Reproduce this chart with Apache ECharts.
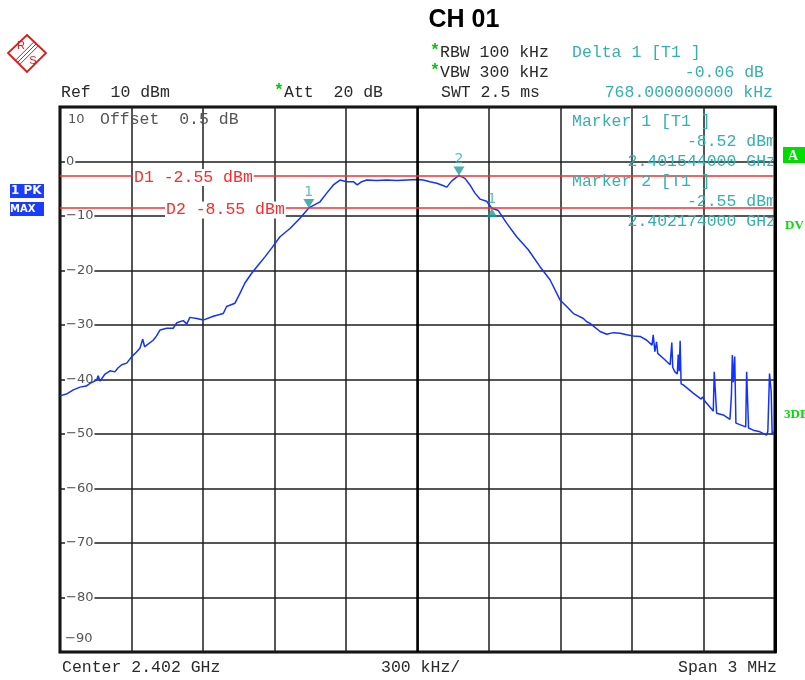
<!DOCTYPE html>
<html><head><meta charset="utf-8">
<script src="https://cdn.jsdelivr.net/npm/echarts@6/dist/echarts.min.js"></script>
<style>html,body{margin:0;padding:0;background:#fff}#c{width:805px;height:680px}</style>
</head><body><div id="c"></div>
<script>
// ---------- data ----------
const centerMHz = 2402.0;
const spanKHz = 3000;
const divKHz = 300;
const refLevel = 10;
const bottomLevel = -90;
const levelStep = 10;

const freqMHz = [
 2400.500,2400.530,2400.556,2400.584,2400.610,2400.626,2400.654,2400.660,2400.668,2400.689,
 2400.710,2400.730,2400.743,2400.759,2400.780,2400.801,2400.820,2400.836,2400.847,2400.855,
 2400.864,2400.891,2400.905,2400.920,2400.948,2400.975,2400.990,2401.017,2401.032,2401.045,
 2401.074,2401.101,2401.143,2401.185,2401.199,2401.234,2401.255,2401.276,2401.304,2401.332,
 2401.360,2401.388,2401.423,2401.465,2401.507,2401.544,2401.591,2401.619,2401.647,2401.675,
 2401.703,2401.731,2401.747,2401.766,2401.787,2401.829,2401.871,2401.913,2401.955,2401.997,
 2402.024,2402.052,2402.081,2402.101,2402.123,2402.143,2402.160,2402.174,2402.199,2402.220,
 2402.241,2402.262,2402.290,2402.312,2402.339,2402.374,2402.416,2402.465,2402.514,2402.556,
 2402.598,2402.626,2402.654,2402.668,2402.696,2402.710,2402.724,2402.766,2402.794,2402.822,
 2402.850,2402.878,2402.906,2402.934,2402.962,2402.984,2402.989,2402.996,2403.003,2403.008,
 2403.031,2403.060,2403.067,2403.071,2403.080,2403.090,2403.094,2403.098,2403.102,2403.106,
 2403.115,2403.157,2403.190,2403.196,2403.206,2403.241,2403.245,2403.251,2403.255,2403.283,
 2403.311,2403.317,2403.321,2403.325,2403.331,2403.336,2403.339,2403.377,2403.381,2403.385,
 2403.389,2403.409,2403.437,2403.465,2403.470,2403.477,2403.484,2403.488,2403.492,2403.500
];
const levelDbm = [
 -43.0,-42.6,-41.9,-41.4,-41.2,-40.7,-40.1,-39.3,-40.3,-39.0,
 -38.4,-38.6,-37.9,-37.3,-37.0,-35.8,-35.0,-34.2,-32.6,-34.0,
 -33.7,-32.8,-32.0,-30.9,-30.6,-30.6,-29.6,-29.2,-29.8,-28.6,
 -28.8,-29.1,-28.4,-27.9,-26.6,-26.0,-24.2,-22.3,-20.5,-19.0,
 -17.5,-15.9,-13.8,-12.3,-10.4,-8.52,-7.4,-5.8,-4.3,-3.4,
 -3.7,-3.7,-4.3,-3.7,-3.4,-3.5,-3.4,-3.5,-3.4,-3.3,
 -3.4,-3.7,-4.0,-4.3,-4.7,-3.6,-3.0,-2.55,-3.1,-4.3,
 -5.8,-6.9,-7.3,-8.58,-9.0,-11.3,-13.8,-16.2,-19.3,-21.7,
 -25.4,-26.6,-27.9,-28.2,-28.8,-29.4,-29.7,-31.2,-31.7,-31.4,
 -31.5,-31.8,-32.0,-32.1,-32.8,-33.7,-31.8,-34.9,-33.1,-35.2,
 -36.1,-37.3,-33.2,-37.8,-38.6,-39.0,-35.4,-38.5,-32.9,-40.8,
 -41.0,-42.5,-43.6,-43.2,-44.0,-45.8,-38.6,-38.8,-46.2,-46.5,
 -47.3,-43.0,-35.5,-40.5,-35.8,-48.0,-48.3,-48.7,-38.6,-38.9,
 -48.9,-49.3,-49.6,-50.2,-49.5,-38.9,-42.2,-50.0,-50.3,-49.4
];

const thresholdNames = ['D1','D2'];
const thresholdValues = [-2.55,-8.55];

const markerLabels = ['1','2','1'];
const markerFreqMHz = [2401.544,2402.174,2402.312];
const markerLevels = [-8.52,-2.55,-8.58];
const markerIsDelta = [false,false,true];

// ---------- build ----------
const toKHz = f => Math.round((f - centerMHz) * 1000 * 1000) / 1000;
const traceData = freqMHz.map((f,i) => [toKHz(f), levelDbm[i]]);
const mkDown = [], mkUp = [];
markerFreqMHz.forEach((f,i) => {
  const d = {value:[toKHz(f), markerLevels[i]], name: markerLabels[i]};
  (markerIsDelta[i] ? mkUp : mkDown).push(d);
});

const mono = '"Liberation Mono","DejaVu Sans Mono",monospace';
const sans = '"DejaVu Sans","Liberation Sans",sans-serif';
const teal = '#35b0b0';
const dark = '#2a2a2a';
const fs = 16.5;

function T(x,y,text,opt){
  opt = opt||{};
  return {type:'text', x:x, y:y, z: opt.z||100, silent:true,
    style:Object.assign({text:text, fill: opt.fill||dark, font: (opt.weight||'normal')+' '+(opt.size||fs)+'px '+(opt.family||mono),
      align: opt.align||'left', verticalAlign:'middle'}, opt.extra||{})};
}

const chart = echarts.init(document.getElementById('c'), null, {renderer:'canvas'});
const option = {
  animation:false,
  backgroundColor:'#fff',
  grid:{left:60, top:107, width:715, height:545, show:true, borderColor:'#000', borderWidth:3, backgroundColor:'transparent'},
  xAxis:{type:'value', min:-spanKHz/2, max:spanKHz/2, interval:divKHz,
    axisLabel:{show:false}, axisTick:{show:false}, axisLine:{show:false},
    splitLine:{show:true, lineStyle:{color:'#1e1e1e', width:1.5}}},
  yAxis:{type:'value', min:bottomLevel, max:refLevel, interval:levelStep,
    axisTick:{show:false}, axisLine:{show:false},
    splitLine:{show:true, lineStyle:{color:'#1e1e1e', width:1.5}},
    axisLabel:{inside:true, margin:5, showMinLabel:false, showMaxLabel:false,
      color:'#555', fontSize:13, fontFamily:sans, backgroundColor:'#fff', padding:[0,1,0,1],
      formatter: v => (v===refLevel||v===bottomLevel) ? '' : String(v).replace('-','\u2212')}},
  series:[
    {type:'line', data:[], z:1, silent:true,
      markLine:{silent:true, symbol:'none', label:{show:false},
        lineStyle:{color:'#000', width:2.5, type:'solid'}, data:[{xAxis:0}]}},
    {type:'line', data:[], z:2, silent:true,
      markLine:{silent:true, symbol:'none', label:{show:false},
        lineStyle:{color:'#ff2a2a', width:1.5, type:'solid'},
        data: thresholdValues.map(v => ({yAxis:v}))}},
    {type:'line', data:traceData, z:3, showSymbol:false, silent:true,
      lineStyle:{color:'#1232ff', width:1.5}},
    {type:'scatter', data:mkDown, z:5, symbol:'triangle', symbolRotate:180, symbolSize:[11,9], symbolOffset:[0,'-50%'],
      itemStyle:{color:'#1a9c9c'},
      label:{show:true, position:'top', distance:0, formatter:p=>p.name, color:teal, fontSize:14, fontFamily:sans}},
    {type:'scatter', data:mkUp, z:5, symbol:'triangle', symbolSize:[11,9], symbolOffset:[0,'50%'],
      itemStyle:{color:'#1a9c9c'},
      label:{show:true, position:'top', distance:2, formatter:p=>p.name, color:teal, fontSize:14, fontFamily:sans}}
  ]
};
chart.setOption(option);

const yPix = v => chart.convertToPixel({gridIndex:0},[0,v])[1];

const g = [];
// title
g.push(T(464,20,'CH 01',{family:'"Liberation Sans",Arial,sans-serif', weight:'bold', size:25, fill:'#000', align:'center'}));
// header
g.push(T(430,51,'*',{fill:'#00c800', weight:'bold'}));
g.push(T(440,53,'RBW 100 kHz'));
g.push(T(430,71,'*',{fill:'#00c800', weight:'bold'}));
g.push(T(440,73,'VBW 300 kHz'));
g.push(T(61,93,'Ref  10 dBm'));
g.push(T(274,91,'*',{fill:'#00c800', weight:'bold'}));
g.push(T(284,93,'Att  20 dB'));
g.push(T(441,93,'SWT 2.5 ms'));
g.push(T(572,53,'Delta 1 [T1 ]',{fill:teal}));
g.push(T(764,73,'-0.06 dB',{fill:teal, align:'right'}));
g.push(T(773,93,'768.000000000 kHz',{fill:teal, align:'right'}));
// inside plot header
g.push(T(68,120,'10',{family:sans, size:13, fill:'#555'}));
g.push(T(100,120,'Offset  0.5 dB',{fill:'#555'}));
g.push(T(65,yPix(bottomLevel)-13,'\u221290',{family:sans, size:13, fill:'#555'}));
// marker panel
g.push(T(572,122,'Marker 1 [T1 ]',{fill:teal, z:50}));
g.push(T(776,142,'-8.52 dBm',{fill:teal, align:'right', z:50}));
g.push(T(776,162,'2.401544000 GHz',{fill:teal, align:'right', z:50}));
g.push(T(572,182,'Marker 2 [T1 ]',{fill:teal, z:50}));
g.push(T(776,202,'-2.55 dBm',{fill:teal, align:'right', z:50}));
g.push(T(776,222,'2.402174000 GHz',{fill:teal, align:'right', z:50}));
// cover right overflow with border
g.push({type:'rect', z:60, silent:true, shape:{x:774,y:106,width:3,height:547}, style:{fill:'#000'}});
// threshold labels
const thrX = [133,165];
thresholdValues.forEach((v,i) => {
  g.push(T(thrX[i], yPix(v)+2, thresholdNames[i]+' '+v.toFixed(2)+' dBm',
    {fill:'#ff2a2a', z:40, extra:{backgroundColor:'#fff', padding:[0,1,0,1]}}));
});
// bottom
g.push(T(62,668,'Center 2.402 GHz'));
g.push(T(381,668,'300 kHz/'));
g.push(T(777,668,'Span 3 MHz',{align:'right'}));
// left boxes
g.push({type:'rect', z:100, silent:true, shape:{x:10,y:184,width:34,height:14}, style:{fill:'#1a3cff'}});
g.push(T(11,191,'1 PK',{family:sans, size:12, weight:'bold', fill:'#fff', z:101, extra:{width:33, overflow:'truncate', ellipsis:''}}));
g.push({type:'rect', z:100, silent:true, shape:{x:10,y:202,width:34,height:14}, style:{fill:'#1a3cff'}});
g.push(T(10,209,'MAXH',{family:sans, size:10, weight:'bold', fill:'#fff', z:101, extra:{width:34, overflow:'truncate', ellipsis:''}}));
// right side indicators
g.push({type:'rect', z:100, silent:true, shape:{x:783,y:147,width:22,height:16}, style:{fill:'#00dd00'}});
g.push(T(788,156,'A',{family:'"Liberation Serif",serif', size:14, weight:'bold', fill:'#fff'}));
g.push(T(785,226,'DV',{family:'"Liberation Serif",serif', size:13, weight:'bold', fill:'#00dd00'}));
g.push(T(784,415,'3DB',{family:'"Liberation Serif",serif', size:13, weight:'bold', fill:'#00dd00'}));
// R&S logo
g.push({type:'polygon', z:100, silent:true, shape:{points:[[27,35],[46,53],[27,72],[8,53]]}, style:{fill:'none', stroke:'#e01818', lineWidth:1.8}});
g.push(T(21,46,'R',{family:'"Liberation Sans",sans-serif', size:11, fill:'#e01818', align:'center'}));
g.push(T(33,61,'S',{family:'"Liberation Sans",sans-serif', size:11, fill:'#e01818', align:'center'}));
[[-3],[0],[3]].forEach(o => {
  const d = o[0];
  g.push({type:'line', z:100, silent:true, shape:{x1:17+d*0.7,y1:63+d*0.7,x2:37+d*0.7,y2:43+d*0.7}, style:{stroke:'#e01818', lineWidth:1}});
});

chart.setOption({graphic:g});
</script>
</body></html>
